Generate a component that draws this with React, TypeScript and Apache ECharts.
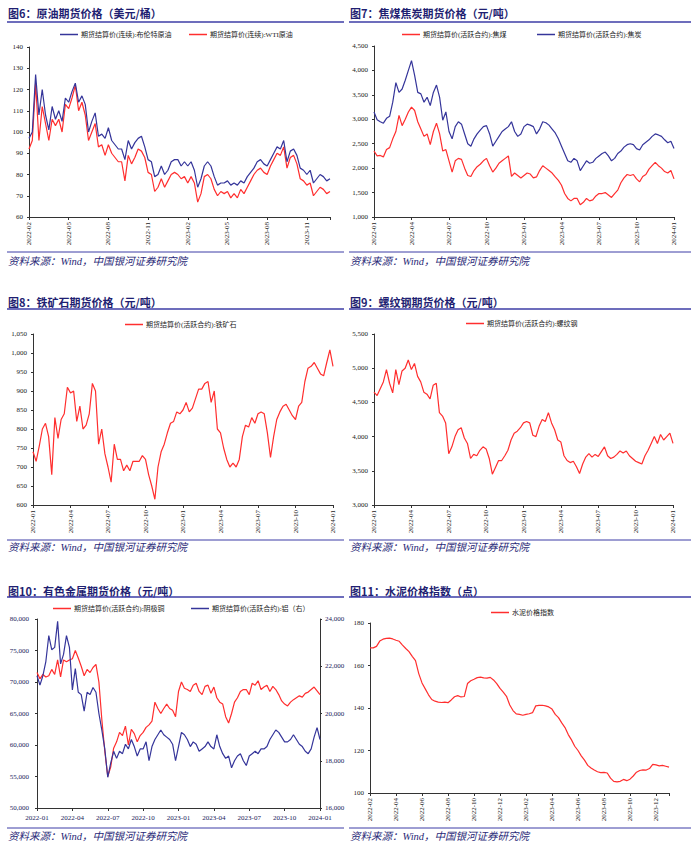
import React, { useEffect, useRef } from "react";
import * as echarts from "echarts";

// ---------- data (weekly-ish samples, 4 per month) ----------
const STEP = 0.25; // months between samples

// 图6 from 2022-02
const brent = [
  97, 100, 127, 108, 120, 108, 101, 112,
  106, 110, 105, 116, 114, 119, 123, 114,
  117, 113, 100, 105, 109, 98, 99, 97,
  102, 96, 94, 92, 92, 87, 96, 92,
  95, 97, 98, 93, 87, 86, 79, 80,
  84, 80, 82, 86, 87, 87, 84, 86,
  84, 86, 82, 74, 78, 84, 86, 84,
  79, 75, 76, 76, 77, 75, 76, 75,
  77, 76, 79, 81, 83, 86, 87, 85,
  84, 87, 90, 93, 92, 96, 86, 91,
  92, 89, 83, 82, 80, 82, 76, 78,
  80, 79, 77, 78,
];
const wti = [
  92, 96, 123, 96, 112, 104, 96, 106,
  103, 106, 100, 113, 111, 116, 122, 110,
  114, 108, 96, 100, 104, 93, 94, 89,
  94, 90, 88, 86, 86, 77, 89, 85,
  88, 92, 91, 88, 81, 80, 72, 74,
  78, 74, 77, 80, 81, 80, 78, 79,
  76, 79, 76, 67, 71, 79, 80, 78,
  73, 70, 72, 71, 72, 69, 71, 69,
  73, 71, 74, 77, 80, 82, 83, 81,
  80, 84, 87, 90, 89, 93, 83, 88,
  89, 85, 78, 77, 75, 76, 70, 72,
  74, 73, 71, 72,
];

// 图7 from 2022-01
const cokingCoal = [
  2350, 2250, 2260, 2230, 2380, 2420, 2600, 2750,
  3080, 2870, 3000, 3150, 3250, 3180, 2950, 2800,
  2650, 2700, 2480, 2750, 2920, 2700, 2350, 2380,
  2150, 1920, 2150, 2200, 2180, 2000, 1850, 1830,
  1950, 2030, 2080, 2150, 2200, 2050, 1920, 2000,
  2100, 2150, 2200, 2250, 1830, 1900, 1850, 1800,
  1850, 1900, 1880, 1800, 1820, 1950, 2050, 2000,
  1950, 1900, 1820, 1750, 1650, 1480, 1380, 1330,
  1380, 1380, 1250, 1300, 1380, 1330, 1350, 1430,
  1480, 1480, 1500, 1450, 1400, 1480, 1550, 1700,
  1800, 1870, 1850, 1870, 1780, 1720, 1830, 1870,
  1980, 2050, 2120, 2050, 2000, 1930, 1900, 1950,
  1780,
];
const coke = [
  3150, 2990, 2950, 2920, 3020, 3060, 3350, 3750,
  3550, 3620, 3800, 4000, 4200, 3900, 3550, 3520,
  3350, 3450, 3280, 3550, 3700, 3450, 2980, 3150,
  2750, 2600, 2850, 2950, 2900, 2700, 2500, 2450,
  2600, 2700, 2780, 2850, 2870, 2700, 2450, 2550,
  2650, 2750, 2800, 2850, 2950, 2750, 2650, 2700,
  2850, 2900, 2880, 2850, 2700, 2800, 2950, 2930,
  2880, 2800, 2720, 2600, 2450, 2300, 2150, 2120,
  2200, 2150, 1950, 2050, 2150, 2100, 2120, 2200,
  2250, 2300, 2330, 2250, 2150, 2200, 2300, 2350,
  2430, 2480, 2500, 2480, 2400, 2370, 2480, 2530,
  2580, 2650, 2700, 2680, 2650, 2580, 2520, 2550,
  2400,
];

// 图8 from 2022-01
const ironOre = [
  740, 715, 755, 800, 815, 780, 680, 830,
  775, 825, 840, 910, 895, 900, 820, 860,
  800, 810, 840, 920, 900, 760, 800, 735,
  700, 660, 760, 720, 720, 690, 705, 690,
  715, 715, 715, 730, 720, 680, 650, 615,
  700, 740, 760, 790, 815, 820, 845, 840,
  850, 870, 845, 855, 880, 905, 905, 920,
  925, 870, 900, 800, 790, 750, 720, 700,
  710, 700, 720, 780, 810, 805, 830, 815,
  840, 845, 840, 790, 725, 780, 825, 845,
  860, 865, 850, 835, 825, 860, 870, 925,
  960, 965, 975, 960, 945, 940, 975, 1008,
  965,
];

// 图9 from 2022-01
const rebar = [
  4650, 4600, 4700, 4800, 4980, 4780, 4640, 4980,
  4760, 4960, 5000, 5120, 4980, 5070, 4880, 4800,
  4650, 4620, 4550, 4750, 4780, 4350, 4300, 4200,
  3750, 3850, 4000, 4100, 4130, 3980, 3900, 3680,
  3740, 3720, 3800, 3850, 3820, 3680, 3450, 3550,
  3650, 3650, 3720, 3800, 3950, 4050, 4080, 4130,
  4200, 4220, 4200, 4020, 4000, 4150, 4250, 4220,
  4350, 4200, 4100, 3950, 3920, 3720, 3650, 3620,
  3640, 3560, 3460, 3600, 3700, 3750, 3700, 3740,
  3710, 3780, 3850, 3720, 3680, 3700, 3740, 3790,
  3760, 3790, 3720, 3680, 3640, 3620, 3600, 3720,
  3800, 3900, 4000, 3900, 4030, 3950, 4000, 4050,
  3900,
];

// 图10 from 2022-01
const copper = [
  71500, 70500, 71200, 70800, 71000, 72000, 71200, 73500,
  70800, 73500, 73200, 73500, 73700, 75000, 73800, 72500,
  71000, 72000, 71500, 72300, 72800, 70000, 64000, 59000,
  55000, 56500, 59500, 60500, 62000, 61500, 63000, 60000,
  62500, 61800, 60500, 61500, 62000, 62800, 63200, 63800,
  66800, 65800, 65000, 65800, 66500, 65800, 65500, 64500,
  68500, 70000, 69000, 68800, 68500, 69500, 69800, 68500,
  68000, 69300, 69500, 68200, 69200, 67500, 66800, 66500,
  64500, 63500, 65000, 66800, 67500, 68500, 68800, 68800,
  68000, 69800, 69500, 70200, 68800, 69200, 69500, 68500,
  69300, 68800, 68000, 67000, 66500, 66200, 66800, 67200,
  67500, 67800, 67600, 68200, 68400, 68800, 69200, 68600,
  68000,
];
const aluminum = [
  21600, 21200, 21600, 22200, 23300, 22700, 22800, 23900,
  22100, 22500, 23300, 22800, 21000, 21900, 20900, 20800,
  20100, 20900, 20800, 21100, 20900, 20000, 19300, 18500,
  17300, 17900, 18400, 18100, 18400, 18300, 18700, 18500,
  18900, 18600, 18200, 18500, 18500, 18800, 18000, 18600,
  18900, 19100, 19300, 19100, 19000, 18900, 18700, 18000,
  18600, 19200, 19100, 18900, 18600, 18800, 18700, 18400,
  18500, 18600, 18800, 18600, 18500, 19100, 18600, 18300,
  18100, 18200, 17700, 18000, 18200, 18300, 18000, 17800,
  18200, 18300, 18400, 18300, 18500, 18500, 18600, 18900,
  19100, 19300, 19200, 19000, 18800, 18800, 18900, 19100,
  18900, 18700, 18600, 18400, 18300, 18500, 19000, 19400,
  18900,
];

// 图11 from 2022-02
const cement = [
  168.3, 168.3, 169.0, 171.5, 172.4, 172.8, 172.9, 172.5,
  171.9, 171.4, 169.6, 168.0, 166.5, 164.3, 162.3, 156.2,
  151.8, 149.0, 146.2, 144.0, 143.2, 142.8, 142.6, 142.8,
  142.5, 143.8, 145.3, 145.8, 145.2, 145.4, 151.5, 152.8,
  153.5, 154.3, 154.5, 154.2, 154.1, 154.4, 153.2, 151.5,
  149.2, 147.5, 145.5, 141.4, 138.8, 137.2, 137.0, 136.6,
  137.0, 137.3, 137.8, 141.0, 141.2, 141.3, 141.0, 140.5,
  139.5, 137.0, 135.5, 133.0, 130.8, 127.5, 125.0, 122.0,
  120.0, 117.5, 115.5, 113.0, 111.8, 110.8, 110.0, 109.6,
  109.7, 109.4, 107.0, 105.5, 105.2, 105.5, 106.4, 105.8,
  106.5, 108.0, 109.8, 110.6, 110.9, 110.8, 111.5, 113.5,
  113.2, 112.8, 113.0, 112.6, 112.2,
];

const titles = [
  "图6：原油期货价格（美元/桶）",
  "图7：焦煤焦炭期货价格（元/吨）",
  "图8：铁矿石期货价格（元/吨）",
  "图9：螺纹钢期货价格（元/吨）",
  "图10：有色金属期货价格（元/吨）",
  "图11：水泥价格指数（点）",
];
const sourceText = "资料来源：Wind，中国银河证券研究院";
const names = {
  brent: "期货结算价(连续):布伦特原油",
  wti: "期货结算价(连续):WTI原油",
  coal: "期货结算价(活跃合约):焦煤",
  coke: "期货结算价(活跃合约):焦炭",
  ore: "期货结算价(活跃合约):铁矿石",
  rebar: "期货结算价(活跃合约):螺纹钢",
  copper: "期货结算价(活跃合约):阴极铜",
  alu: "期货结算价(活跃合约):铝（右）",
  cement: "水泥价格指数",
};

// ---------- styling ----------
const BLUE = "#35359a";
const RED = "#ff2e2e";
const NAVY = "#1f1f72";
const RULE = "#3d3da6";
const SERIF = "'Liberation Serif', 'Noto Sans CJK SC', serif";
const CJK = "'Noto Sans CJK SC', sans-serif";

const pairs = (vals: number[]) => vals.map((v, i) => [i * STEP, v]);

const monthFmt = (startIdx: number, interval: number) => (v: number) => {
  const k = v / interval;
  if (Math.abs(k - Math.round(k)) > 1e-6) return "";
  const idx = startIdx + Math.round(v);
  const y = 2022 + Math.floor(idx / 12);
  const m = (idx % 12) + 1;
  return `${y}-${m < 10 ? "0" + m : m}`;
};
const thousands = (v: number) => v.toLocaleString("en-US");

const axisLineStyle = { show: true, lineStyle: { color: "#333", width: 1 } };

function xAxis(gridIndex: number, startIdx: number, max: number, interval: number, rotate = 90) {
  return {
    type: "value",
    gridIndex,
    min: 0,
    max,
    interval,
    axisLine: axisLineStyle,
    axisTick: { show: true, length: 3, lineStyle: { color: "#333" } },
    splitLine: { show: false },
    axisLabel: {
      rotate,
      fontSize: 7,
      fontFamily: SERIF,
      color: rotate ? "#222" : "#1a1a5a",
      margin: rotate ? 5 : 6,
      formatter: monthFmt(startIdx, interval),
    },
  };
}
function yAxis(gridIndex: number, min: number, max: number, interval: number, fmt?: (v: number) => string, position = "left") {
  return {
    type: "value",
    gridIndex,
    position,
    min,
    max,
    interval,
    axisLine: axisLineStyle,
    axisTick: { show: true, length: 2, lineStyle: { color: "#333" } },
    splitLine: { show: false },
    axisLabel: { fontSize: 7, fontFamily: SERIF, color: "#222", margin: 6, formatter: fmt },
  };
}
function line(name: string, vals: number[], color: string, xi: number, yi: number) {
  return {
    type: "line",
    name,
    data: pairs(vals),
    xAxisIndex: xi,
    yAxisIndex: yi,
    showSymbol: false,
    symbol: "none",
    color,
    lineStyle: { color, width: 1.2 },
  };
}
function legend(name: string, left: number, top: number) {
  return {
    data: [name],
    left,
    top,
    padding: 0,
    itemGap: 0,
    itemWidth: 18,
    itemHeight: 1.5,
    icon: "rect",
    selectedMode: false,
    textStyle: { fontSize: 7, fontFamily: SERIF, color: "#222", padding: [0, 0, 0, -2] },
  };
}
function titleText(text: string, x: number, y: number) {
  return {
    type: "text",
    x,
    y,
    style: { text, fontSize: 11, fontWeight: "bold", fontFamily: CJK, fill: NAVY, verticalAlign: "middle" },
  };
}
function sourceEl(x: number, y: number) {
  return {
    type: "text",
    x,
    y,
    style: { text: sourceText, fontSize: 10.5, fontStyle: "italic", fontFamily: SERIF, fill: "#2a2a78", verticalAlign: "middle" },
  };
}
function rule(x1: number, x2: number, y: number, w = 1.3) {
  return { type: "line", shape: { x1, y1: y, x2, y2: y }, style: { stroke: RULE, lineWidth: w } };
}

export default function App() {
  const ref = useRef<HTMLDivElement>(null);
  useEffect(() => {
    if (!ref.current) return;
    const chart = echarts.init(ref.current, undefined, { renderer: "svg" });
    const grid = (left: number, top: number, width: number, height: number) => ({
      left, top, width, height, containLabel: false, outerBoundsMode: "none",
    });
    chart.setOption({
      animation: false,
      backgroundColor: "#ffffff",
      grid: [
        grid(29, 47, 301, 170),
        grid(374, 46, 300, 171),
        grid(33, 334, 300, 171),
        grid(374, 334, 299, 171),
        grid(37, 619, 283, 189),
        grid(370, 623, 299, 170),
      ],
      xAxis: [
        xAxis(0, 1, 22.75, 3),
        xAxis(1, 0, 24, 3),
        xAxis(2, 0, 24, 3),
        xAxis(3, 0, 24, 3),
        xAxis(4, 0, 24, 3, 0),
        xAxis(5, 1, 23, 2),
      ],
      yAxis: [
        yAxis(0, 60, 140, 10),
        yAxis(1, 1000, 4500, 500, thousands),
        yAxis(2, 600, 1050, 50, thousands),
        yAxis(3, 3000, 5500, 500, thousands),
        { ...yAxis(4, 50000, 80000, 5000, thousands), axisLabel: { fontSize: 7, fontFamily: SERIF, color: "#1a1a5a", margin: 8, formatter: thousands } },
        { ...yAxis(4, 16000, 24000, 2000, thousands, "right"), axisLabel: { fontSize: 7, fontFamily: SERIF, color: "#1a1a5a", margin: 5, formatter: thousands } },
        yAxis(5, 100, 180, 20),
      ],
      legend: [
        legend(names.brent, 60, 31),
        legend(names.wti, 189, 31),
        legend(names.coal, 402, 31),
        legend(names.coke, 537, 31),
        legend(names.ore, 125, 321),
        legend(names.rebar, 466, 320),
        legend(names.copper, 53, 605),
        legend(names.alu, 191, 605),
        legend(names.cement, 491, 609),
      ],
      series: [
        line(names.wti, wti, RED, 0, 0),
        line(names.brent, brent, BLUE, 0, 0),
        line(names.coal, cokingCoal, RED, 1, 1),
        line(names.coke, coke, BLUE, 1, 1),
        line(names.ore, ironOre, RED, 2, 2),
        line(names.rebar, rebar, RED, 3, 3),
        line(names.copper, copper, RED, 4, 4),
        line(names.alu, aluminum, BLUE, 4, 5),
        line(names.cement, cement, RED, 5, 6),
      ],
      graphic: [
        titleText(titles[0], 8, 13),
        titleText(titles[1], 350, 13),
        titleText(titles[2], 8, 302),
        titleText(titles[3], 350, 302),
        titleText(titles[4], 8, 591),
        titleText(titles[5], 350, 591),
        rule(7, 344, 22),
        rule(349, 691, 22),
        rule(7, 344, 309),
        rule(349, 691, 309),
        rule(7, 344, 597),
        rule(349, 691, 597),
        rule(7, 344, 252, 1),
        rule(349, 691, 252, 1),
        rule(7, 344, 540, 1),
        rule(349, 691, 540, 1),
        rule(7, 344, 828, 1),
        rule(349, 691, 828, 1),
        sourceEl(8, 261),
        sourceEl(350, 261),
        sourceEl(8, 547),
        sourceEl(350, 547),
        sourceEl(8, 836),
        sourceEl(350, 836),
      ],
    });
    return () => chart.dispose();
  }, []);
  return (
    <div
      ref={ref}
      style={{ position: "fixed", left: 0, top: 0, width: 700, height: 848, background: "#fff" }}
    />
  );
}
